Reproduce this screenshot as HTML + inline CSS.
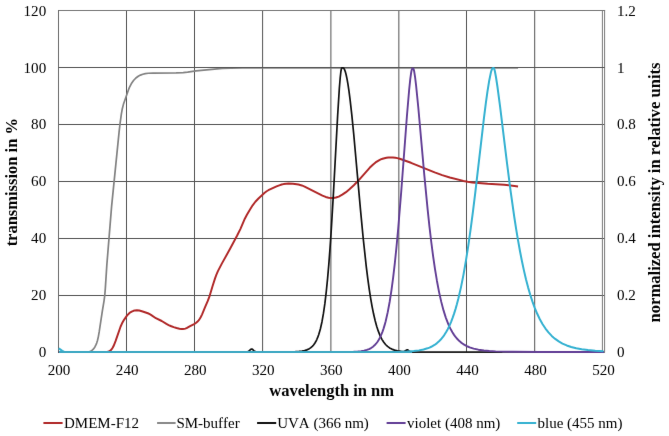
<!DOCTYPE html>
<html><head><meta charset="utf-8"><style>
html,body{margin:0;padding:0;background:#fff;}
body{width:669px;height:436px;overflow:hidden;}
svg{position:absolute;left:0;top:0;}
text{font-family:"Liberation Serif", serif;fill:#000;font-kerning:none;}
</style></head><body>
<svg width="669" height="436" viewBox="0 0 669 436">
<defs><filter id="soft" x="0" y="0" width="669" height="436" filterUnits="userSpaceOnUse" color-interpolation-filters="sRGB"><feConvolveMatrix order="3" kernelMatrix="0.00276 0.04704 0.00276 0.04704 0.80077 0.04704 0.00276 0.04704 0.00276" edgeMode="duplicate" preserveAlpha="true"/></filter></defs>
<g filter="url(#soft)">
<rect width="669" height="436" fill="#fff"/>
<line x1="126.50" y1="10.5" x2="126.50" y2="352.5" stroke="#525252" stroke-width="1"/>
<line x1="194.50" y1="10.5" x2="194.50" y2="352.5" stroke="#525252" stroke-width="1"/>
<line x1="262.60" y1="10.5" x2="262.60" y2="352.5" stroke="#525252" stroke-width="1"/>
<line x1="330.90" y1="10.5" x2="330.90" y2="352.5" stroke="#525252" stroke-width="1"/>
<line x1="398.85" y1="10.5" x2="398.85" y2="352.5" stroke="#525252" stroke-width="1"/>
<line x1="466.50" y1="10.5" x2="466.50" y2="352.5" stroke="#525252" stroke-width="1"/>
<line x1="534.70" y1="10.5" x2="534.70" y2="352.5" stroke="#525252" stroke-width="1"/>
<line x1="58.5" y1="67.50" x2="604.6" y2="67.50" stroke="#525252" stroke-width="1"/>
<line x1="58.5" y1="124.50" x2="604.6" y2="124.50" stroke="#525252" stroke-width="1"/>
<line x1="58.5" y1="181.50" x2="604.6" y2="181.50" stroke="#525252" stroke-width="1"/>
<line x1="58.5" y1="238.50" x2="604.6" y2="238.50" stroke="#525252" stroke-width="1"/>
<line x1="58.5" y1="295.50" x2="604.6" y2="295.50" stroke="#525252" stroke-width="1"/>
<line x1="58" y1="10.5" x2="605.1" y2="10.5" stroke="#767676" stroke-width="1"/>
<line x1="58.5" y1="10" x2="58.5" y2="353" stroke="#6a6a6a" stroke-width="1"/>
<line x1="602.4" y1="10.5" x2="602.4" y2="352.5" stroke="#787878" stroke-width="1"/>
<line x1="604.6" y1="10" x2="604.6" y2="352.5" stroke="#787878" stroke-width="1"/>
<line x1="58.5" y1="352.5" x2="604.6" y2="352.5" stroke="#525252" stroke-width="1"/>
<path d="M59.59,352.00 L104.80,351.98 L107.74,351.71 L109.54,351.07 L110.71,350.26 L111.71,349.20 L112.79,347.56 L113.69,345.79 L115.73,340.69 L120.61,326.51 L122.06,323.33 L124.03,319.85 L126.60,316.17 L127.87,314.63 L129.26,313.22 L130.42,312.31 L131.69,311.56 L133.51,310.80 L134.94,310.42 L136.89,310.23 L139.33,310.51 L142.68,311.48 L147.87,313.26 L149.68,314.09 L150.96,314.84 L155.87,318.24 L161.72,321.00 L166.40,323.86 L168.60,325.03 L171.34,326.25 L173.68,327.12 L176.55,327.99 L179.46,328.70 L181.42,329.01 L182.88,329.06 L184.32,328.88 L185.25,328.61 L186.60,328.03 L190.09,326.10 L194.11,324.11 L196.19,322.77 L197.31,321.80 L198.63,320.33 L199.80,318.71 L200.81,317.00 L202.10,314.30 L204.97,307.37 L207.78,300.96 L209.68,295.80 L212.52,286.21 L214.95,278.59 L216.32,274.84 L217.92,271.17 L221.82,263.62 L230.35,248.34 L237.15,235.54 L240.47,228.81 L244.82,218.72 L246.91,214.73 L249.43,210.41 L252.64,205.35 L255.36,201.77 L258.45,198.51 L264.65,192.71 L266.64,191.22 L268.36,190.22 L276.52,186.46 L279.29,185.31 L281.66,184.54 L283.60,184.08 L286.07,183.74 L288.56,183.59 L293.05,183.70 L298.47,184.56 L301.84,185.46 L304.63,186.55 L322.45,195.61 L325.66,196.97 L328.55,197.69 L331.02,197.97 L333.50,197.93 L335.95,197.53 L338.75,196.55 L342.27,194.67 L345.99,192.15 L349.46,189.30 L353.84,185.20 L357.71,181.29 L369.64,167.81 L372.86,164.68 L375.55,162.45 L378.92,160.33 L380.71,159.45 L382.57,158.72 L386.42,157.72 L388.40,157.46 L390.39,157.38 L392.88,157.47 L395.36,157.73 L397.32,158.09 L399.72,158.76 L411.02,162.79 L434.67,172.31 L442.16,175.13 L449.81,177.47 L463.37,180.92 L467.78,181.82 L472.24,182.41 L487.67,183.83 L504.14,184.67 L518.06,186.41" fill="none" stroke="#b02828" stroke-width="1.95" stroke-linejoin="round" stroke-linecap="butt"/>
<path d="M59.59,352.00 L85.30,351.99 L87.78,351.87 L89.70,351.49 L91.03,350.93 L92.23,350.12 L93.28,349.11 L94.21,347.95 L95.01,346.70 L95.92,344.94 L96.67,343.09 L97.42,340.71 L98.33,336.82 L99.19,331.89 L102.41,310.63 L104.04,300.77 L104.75,295.32 L105.30,288.84 L106.84,264.89 L111.58,206.58 L119.05,132.46 L120.18,122.52 L121.35,114.10 L122.31,108.69 L123.43,104.34 L128.51,89.70 L129.43,87.38 L131.26,83.84 L133.52,80.55 L135.87,77.99 L138.25,76.21 L140.47,75.10 L142.81,74.27 L145.23,73.68 L148.20,73.27 L153.19,73.06 L176.19,72.89 L183.18,72.62 L187.66,72.21 L196.04,70.85 L214.45,69.06 L222.42,68.39 L230.92,68.11 L242.41,68.00 L518.06,68.00" fill="none" stroke="#828282" stroke-width="1.7" stroke-linejoin="round" stroke-linecap="butt"/>
<line x1="58.5" y1="67.5" x2="604.6" y2="67.5" stroke="#525252" stroke-width="1"/>
<path d="M58.80,352.00 L245.30,351.99 L247.05,351.88 L248.05,351.57 L249.05,350.90 L250.80,349.28 L251.55,349.00 L252.05,349.09 L252.55,349.39 L254.05,350.81 L254.80,351.38 L255.80,351.80 L256.80,351.95 L277.80,351.98 L290.80,351.86 L295.30,351.71 L299.05,351.45 L302.05,351.08 L304.55,350.57 L306.80,349.88 L308.80,348.98 L310.55,347.88 L312.30,346.37 L313.55,344.97 L314.80,343.23 L315.80,341.54 L316.80,339.54 L317.80,337.16 L318.68,334.73 L320.36,328.94 L321.99,321.69 L323.49,313.20 L324.93,303.13 L326.30,291.47 L327.55,278.94 L328.77,264.81 L329.99,248.74 L331.21,230.71 L333.41,193.70 L337.66,115.28 L339.33,88.56 L340.18,77.99 L340.89,71.50 L341.27,69.37 L341.58,68.32 L341.83,67.93 L342.33,67.80 L342.83,67.81 L343.33,67.96 L343.83,68.40 L344.33,69.17 L345.21,71.33 L346.08,74.46 L347.02,78.81 L348.02,84.53 L349.02,91.30 L350.11,99.78 L351.80,114.82 L353.71,134.04 L360.43,209.12 L363.30,239.26 L366.27,266.55 L367.74,278.36 L369.18,288.78 L370.61,298.08 L372.05,306.31 L373.55,313.80 L375.11,320.51 L376.68,326.21 L378.30,331.17 L380.05,335.57 L381.93,339.34 L383.80,342.32 L385.55,344.50 L387.55,346.43 L389.55,347.89 L391.80,349.09 L394.55,350.11 L397.55,350.83 L401.30,351.36 L403.30,351.50 L404.30,351.41 L405.05,351.10 L406.55,350.00 L407.30,349.76 L408.05,350.05 L409.30,351.11 L410.05,351.56 L411.05,351.81 L412.30,351.89 L428.55,351.99 L502.30,352.00" fill="none" stroke="#111" stroke-width="1.7" stroke-linejoin="round"/>
<path d="M58.80,352.00 L325.30,352.00 L348.30,351.90 L353.55,351.76 L357.80,351.51 L361.05,351.17 L364.05,350.66 L366.80,349.94 L369.05,349.08 L371.05,348.04 L373.05,346.66 L374.55,345.33 L376.05,343.70 L377.55,341.71 L378.80,339.73 L380.05,337.40 L381.30,334.67 L382.43,331.84 L383.55,328.60 L384.68,324.90 L385.68,321.20 L387.74,312.16 L389.68,301.74 L391.55,289.62 L393.21,277.11 L394.86,262.80 L396.52,246.67 L398.18,228.74 L401.18,192.22 L406.96,115.47 L409.18,89.50 L410.24,79.33 L411.18,72.45 L411.61,70.25 L411.99,69.05 L412.24,68.62 L412.49,68.43 L412.74,68.40 L413.24,68.53 L413.49,68.88 L413.86,69.94 L414.18,71.30 L415.05,76.84 L416.08,85.39 L418.27,107.28 L424.39,175.94 L427.68,209.91 L429.49,226.82 L431.30,242.25 L433.14,256.41 L434.96,268.85 L436.96,280.96 L439.08,292.09 L441.27,301.88 L443.52,310.39 L445.89,317.87 L448.39,324.34 L449.64,327.11 L451.02,329.84 L452.39,332.27 L453.89,334.62 L455.14,336.36 L456.64,338.23 L459.39,341.07 L460.89,342.37 L462.39,343.50 L464.14,344.66 L465.89,345.65 L467.64,346.50 L469.64,347.33 L473.64,348.63 L478.39,349.69 L483.89,350.50 L489.39,351.01 L495.64,351.38 L503.39,351.64 L512.89,351.81 L539.89,351.96 L604.00,352.00" fill="none" stroke="#623e95" stroke-width="1.9" stroke-linejoin="round"/>
<path d="M58.60,348.40 L60.20,349.40 L62.20,350.90 L64.00,351.70 L66.00,352.00 L355.00,352.00 L390.00,351.91 L400.25,351.75 L407.75,351.46 L413.75,351.03 L419.00,350.38 L423.50,349.50 L427.50,348.33 L429.50,347.57 L431.25,346.78 L434.50,344.94 L436.75,343.32 L438.75,341.60 L440.75,339.55 L442.50,337.47 L444.25,335.07 L446.00,332.31 L447.75,329.16 L449.38,325.83 L451.00,322.07 L452.50,318.19 L454.00,313.88 L455.50,309.11 L456.88,304.31 L458.31,298.81 L461.06,286.87 L463.50,274.60 L465.94,260.68 L468.38,245.08 L470.81,227.85 L472.94,211.59 L475.25,192.77 L483.97,117.97 L485.81,103.41 L487.44,91.71 L489.25,80.45 L490.81,72.85 L491.44,70.58 L492.06,68.94 L492.56,68.22 L492.81,68.06 L493.31,68.00 L493.56,68.03 L493.81,68.20 L494.06,68.58 L494.44,69.57 L494.94,71.54 L496.00,77.24 L497.38,86.23 L500.06,106.44 L506.94,162.61 L510.47,190.05 L514.28,217.00 L516.16,229.07 L517.97,239.96 L519.91,250.76 L521.91,261.01 L523.91,270.39 L525.97,279.17 L528.09,287.35 L530.22,294.69 L532.47,301.63 L534.72,307.79 L537.22,313.80 L539.84,319.27 L542.47,323.99 L545.47,328.57 L548.47,332.42 L551.72,335.89 L553.47,337.49 L555.22,338.94 L558.72,341.41 L562.47,343.54 L566.72,345.44 L571.22,346.98 L576.22,348.26 L581.72,349.29 L587.97,350.11 L595.22,350.75 L603.50,351.21" fill="none" stroke="#34b1d1" stroke-width="2.0" stroke-linejoin="round"/>
<line x1="59" y1="352" x2="412" y2="352" stroke="#3aa6c2" stroke-width="2.1"/>
<text x="46.2" y="356.75" text-anchor="end" font-size="15.1">0</text>
<text x="46.2" y="299.92" text-anchor="end" font-size="15.1">20</text>
<text x="46.2" y="243.08" text-anchor="end" font-size="15.1">40</text>
<text x="46.2" y="186.25" text-anchor="end" font-size="15.1">60</text>
<text x="46.2" y="129.42" text-anchor="end" font-size="15.1">80</text>
<text x="46.2" y="72.58" text-anchor="end" font-size="15.1">100</text>
<text x="46.2" y="15.75" text-anchor="end" font-size="15.1">120</text>
<text x="616.9" y="356.75" font-size="15.1">0</text>
<text x="616.9" y="299.92" font-size="15.1">0.2</text>
<text x="616.9" y="243.08" font-size="15.1">0.4</text>
<text x="616.9" y="186.25" font-size="15.1">0.6</text>
<text x="616.9" y="129.42" font-size="15.1">0.8</text>
<text x="616.9" y="72.58" font-size="15.1">1</text>
<text x="616.9" y="15.75" font-size="15.1">1.2</text>
<text x="59.10" y="375.0" text-anchor="middle" font-size="15.1">200</text>
<text x="127.16" y="375.0" text-anchor="middle" font-size="15.1">240</text>
<text x="195.22" y="375.0" text-anchor="middle" font-size="15.1">280</text>
<text x="263.28" y="375.0" text-anchor="middle" font-size="15.1">320</text>
<text x="331.34" y="375.0" text-anchor="middle" font-size="15.1">360</text>
<text x="399.40" y="375.0" text-anchor="middle" font-size="15.1">400</text>
<text x="467.46" y="375.0" text-anchor="middle" font-size="15.1">440</text>
<text x="535.52" y="375.0" text-anchor="middle" font-size="15.1">480</text>
<text x="603.58" y="375.0" text-anchor="middle" font-size="15.1">520</text>
<text x="331.7" y="395.9" text-anchor="middle" font-size="16.5" font-weight="bold">wavelength in nm</text>
<text transform="translate(16.5,182.2) rotate(-90)" text-anchor="middle" font-size="16.5" font-weight="bold">transmission in %</text>
<text transform="translate(659.8,192.5) rotate(-90)" text-anchor="middle" font-size="16.6" font-weight="bold">normalized intensity in relative units</text>
<line x1="43.4" y1="423" x2="62.6" y2="423" stroke="#b02828" stroke-width="2"/>
<text x="64" y="427.5" font-size="15">DMEM-F12</text>
<line x1="157.1" y1="423" x2="175.6" y2="423" stroke="#888888" stroke-width="2"/>
<text x="176.4" y="427.5" font-size="15">SM-buffer</text>
<line x1="257.1" y1="423" x2="276.2" y2="423" stroke="#111" stroke-width="2"/>
<text x="277.2" y="427.5" font-size="15">UVA (366 nm)</text>
<line x1="386.6" y1="423" x2="405.6" y2="423" stroke="#623e95" stroke-width="2"/>
<text x="407" y="427.5" font-size="15">violet (408 nm)</text>
<line x1="517.2" y1="423" x2="536.2" y2="423" stroke="#34b1d1" stroke-width="2"/>
<text x="537.5" y="427.5" font-size="15">blue (455 nm)</text>
</g>
</svg>
</body></html>
